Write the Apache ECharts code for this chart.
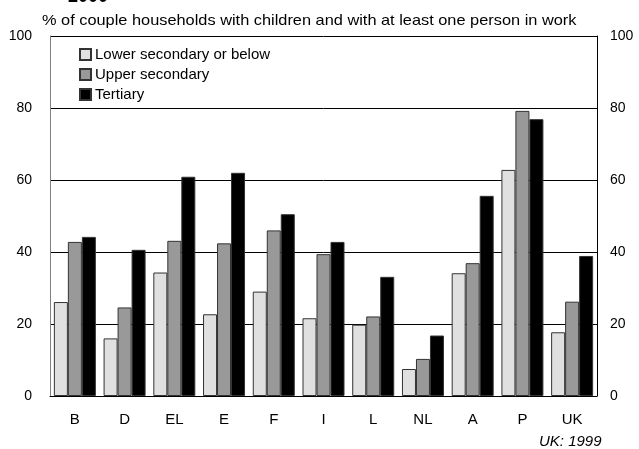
<!DOCTYPE html>
<html><head><meta charset="utf-8">
<script src="https://cdn.jsdelivr.net/npm/echarts@6/dist/echarts.min.js"></script>
<style>html,body{margin:0;padding:0;background:#fff}#c{width:639px;height:449px}</style>
</head><body><div id="c"></div>
<script>
const categories = ['B','D','EL','E','F','I','L','NL','A','P','UK'];
const lowerSecondary = [26.1, 16.0, 34.3, 22.7, 29.0, 21.6, 19.8, 7.5, 34.1, 62.8, 17.7];
const upperSecondary = [42.8, 24.6, 43.1, 42.4, 46.0, 39.4, 22.1, 10.3, 36.9, 79.2, 26.2];
const tertiary = [44.2, 40.6, 60.9, 62.0, 50.5, 42.8, 33.1, 16.8, 55.6, 76.9, 38.9];
const yTicks = [0, 20, 40, 60, 80, 100];

const font = 'Liberation Sans, Arial, sans-serif';
const chart = echarts.init(document.getElementById('c'));
const mk = (name, data, color) => ({
  name, type: 'bar', data, barWidth: 14, barGap: '0%',
  itemStyle: { color, borderColor: '#333', borderWidth: 1 }
});
chart.setOption({
  animation: false,
  textStyle: { fontFamily: font },
  grid: { left: 50, right: 42, top: 36, bottom: 53 },
  legend: {
    orient: 'vertical', left: 79, top: 46, padding: 0,
    itemWidth: 11, itemHeight: 11, itemGap: 3,
    icon: 'rect',
    textStyle: { fontSize: 15, lineHeight: 17, color: '#000', fontFamily: font, padding: [0, 0, 0, -1] },
    data: ['Lower secondary or below', 'Upper secondary', 'Tertiary']
  },
  graphic: [
    { type: 'text', left: 68, top: -12, style: { text: '2000', font: 'bold 18px ' + font, fill: '#000' } },
    { type: 'text', x: 42, y: 13, scaleX: 1.09, style: { text: '% of couple households with children and with at least one person in work', font: '15px ' + font, fill: '#000' } },
    { type: 'text', x: 539, y: 434, style: { text: 'UK: 1999', font: 'italic 15px ' + font, fill: '#000' } }
  ],
  xAxis: {
    type: 'category', data: categories,
    axisLine: { lineStyle: { color: '#000', width: 1 } },
    axisTick: { show: false },
    axisLabel: { fontSize: 15, color: '#000', margin: 16, fontFamily: font }
  },
  yAxis: [
    { type: 'value', min: 0, max: 100, interval: 20, position: 'left',
      axisLine: { show: true, lineStyle: { color: '#808080' } },
      axisTick: { show: false },
      axisLabel: { fontSize: 14, color: '#000', margin: 18, fontFamily: font },
      splitLine: { lineStyle: { color: '#000', width: 1 } } },
    { type: 'value', min: 0, max: 100, interval: 20, position: 'right',
      axisLine: { show: true, lineStyle: { color: '#000' } },
      axisTick: { show: false },
      axisLabel: { fontSize: 14, color: '#000', margin: 13, fontFamily: font },
      splitLine: { show: false } }
  ],
  series: [
    mk('Lower secondary or below', lowerSecondary, '#e0e0e0'),
    mk('Upper secondary', upperSecondary, '#999999'),
    mk('Tertiary', tertiary, '#000000')
  ]
});
</script></body></html>
